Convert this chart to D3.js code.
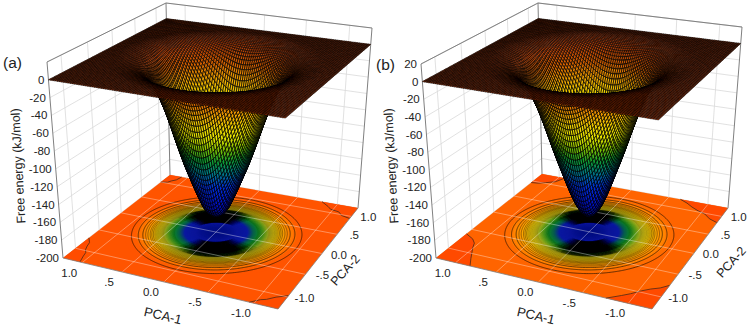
<!DOCTYPE html>
<html><head><meta charset="utf-8">
<style>html,body{margin:0;padding:0;background:#fff}svg{display:block}text{font-family:"Liberation Sans",Arial,sans-serif;fill:#222}</style>
<script src="https://cdn.jsdelivr.net/npm/d3@7"></script></head>
<body><svg id="c" width="749" height="327"></svg>
<script>
// ---------- data ----------
const xTicks = [1, .5, 0, -.5, -1];
const xTickLabels = ["1.0", ".5", "0.0", "-.5", "-1.0"];
const yTicks = [1, .5, 0, -.5, -1];
const yTickLabels = ["1.0", ".5", "0.0", "-.5", "-1.0"];
const zTicksA = [0,-20,-40,-60,-80,-100,-120,-140,-160,-180,-200];
const zTicksB = [20,0,-20,-40,-60,-80,-100,-120,-140,-160,-180,-200];
// radial free-energy profile of the well
const radii   = [0,.05,.1,.15,.2,.25,.3,.35,.4,.45,.5,.55,.6,.65,.7,.75,.8,.85,.9,.95,1,1.05,1.1,1.4,1.8];
const energyA = [-181,-180,-176,-169,-158,-146,-133,-120,-105,-89,-72,-56,-42,-30,-20,-13,-8.5,-5.5,-3.5,-2,-1,-.3,0,0,0];
const energyB = [-181,-180,-175,-167,-156,-143,-129,-115,-100,-84,-68,-53,-40,-29,-20,-13,-8.5,-5.5,-3.5,-2,-1,-.3,0,0,0];
const outerLevels = [1.8,4.2,6.7,8.7,11,13.5,16,18.5,21,23.5,26,28.5,31,33.5,36,38.5,41,43.5];
const innerLevels = [46,49,52,55,58,61,64,67,70,73,76,79,82,85,88,91,94,97,100,103,106,109,112,115,118,121,124,127,130,133,136,139,142,145];
// wiggly corner contours (PCA-1, PCA-2)
const cornersA = [
 [[1.25,-.72],[1.18,-.82],[1.16,-.9],[1.13,-.98],[1.09,-1.04],[1.07,-1.12],[1.03,-1.25]],
 [[1.25,1.0],[1.17,1.03],[1.14,1.09],[1.1,1.14],[1.08,1.25]],
 [[-.81,1.25],[-.92,1.15],[-.97,1.09],[-1.08,1.06],[-1.14,.98],[-1.25,.94]],
 [[-.95,-1.25],[-1.03,-1.16],[-1.08,-1.13],[-1.15,-1.05],[-1.19,-1.02],[-1.25,-.97]]];
const cornersB = [
 [[1.25,-.62],[1.12,-.7],[1.05,-.78],[1.01,-.88],[.95,-1],[.9,-1.1],[.82,-1.25]],
 [[1.25,.95],[1.16,.97],[1.08,1.02],[.98,1.1],[.95,1.17],[.92,1.25]],
 [[-.65,1.25],[-.76,1.18],[-.85,1.1],[-.95,1.03],[-1.05,.98],[-1.14,.88],[-1.25,.82]],
 [[-.76,-1.25],[-.88,-1.14],[-.95,-1.07],[-1.03,-.97],[-1.1,-.9],[-1.18,-.84],[-1.25,-.75]]];
// colour ramps
const surfDomain = [-181,-160,-135,-118,-100,-85,-70,-55,-40,-25,-10,0];
const surfRange  = ["#000a78","#0010c8","#0030d8","#007890","#10a030","#80c000","#e8e800","#f0d000","#f0a000","#dc6400","#b84006","#a83408"];
const floorDomain = [-181,-150,-118,-100,-80,-60,-42,-25,-12,-5,-1,0];
const floorRangeA = ["#000c80","#0a1498","#0a18a0","#065a50","#0c8028","#58a020","#b4b420","#e0c410","#f8a000","#ff7800","#ff5400","#ff5400"];
const floorRangeB = ["#000c80","#0a1498","#0a18a0","#065a50","#0c8028","#60a820","#bcbc20","#e8cc10","#fca800","#ff8400","#ff6400","#ff6400"];
const tiers = [[50,.08,.12],[44,.1,.2],[38,.15,.25],[32,.2,.35],[26,.2,.4]];

// panel geometry: screen corners of the box
const panels = [
 {name:"(a)", lx:3, ly:68, zTicks:zTicksA, energy:energyA, floorRange:floorRangeA, corners:cornersA, cornerFill:"#ff4c00", base:"#ff5400",
  floor:[[63,258],[278,309],[358,208],[170,175]], top:[[47,62],[286,99],[372,28],[166,3]],
  zl:[18,166], p1:[163,315.5], p2:[345,270]},
 {name:"(b)", lx:376, ly:70, zTicks:zTicksB, energy:energyB, floorRange:floorRangeB, corners:cornersB, cornerFill:"#ff4a00", base:"#ff6400",
  floor:[[436,258],[652,309],[728,208],[542,174]], top:[[421,64],[659,101],[742,27],[538,3]],
  zl:[391,166], p1:[536,315.5], p2:[731,262]}
];
const domX=[1.25,-1.25], domY=[-1.25,1.25];
const sS=d3.scaleLinear().domain(domX).range([0,1]), sT=d3.scaleLinear().domain(domY).range([0,1]);
const sZ=d3.scaleLinear().domain([-200,20]).range([0,1]);
const meshWidth=d3.scaleLinear().domain([-20,-2]).range([.72,.5]).clamp(true);

function homography(q){ // unit square -> quad (p00,p10,p11,p01)
  const [[x0,y0],[x1,y1],[x2,y2],[x3,y3]]=q;
  const dx1=x1-x2,dx2=x3-x2,sx=x0-x1+x2-x3,dy1=y1-y2,dy2=y3-y2,sy=y0-y1+y2-y3;
  const d=dx1*dy2-dx2*dy1, g=(sx*dy2-dx2*sy)/d, h=(dx1*sy-sx*dy1)/d;
  const a=x1-x0+g*x1,b=x3-x0+h*x3,c=x0,dd=y1-y0+g*y1,e=y3-y0+h*y3,f=y0;
  return (s,t)=>{const w=g*s+h*t+1;return [(a*s+b*t+c)/w,(dd*s+e*t+f)/w];};
}
const svg=d3.select("#c");
const pathOf=pts=>"M"+pts.map(p=>p[0].toFixed(2)+","+p[1].toFixed(2)).join("L")+"Z";

panels.forEach(P=>{
  const HF=homography(P.floor), HT=homography(P.top);
  const proj=(x,y,z)=>{const s=sS(x),t=sT(y),u=sZ(z),a=HF(s,t),b=HT(s,t);return [a[0]+(b[0]-a[0])*u,a[1]+(b[1]-a[1])*u];};
  const g=svg.append("g");
  const line=d3.line();
  const eScale=d3.scaleLinear().domain(radii).range(P.energy);
  const surfColor=d3.scaleLinear().domain(surfDomain).range(surfRange);
  const floorColor=d3.scaleLinear().domain(floorDomain).range(P.floorRange);
  const energyAt=(x,y)=>eScale(Math.hypot(x,y));
  const zMin=-200,zMax=20,xMin=-1.25,xMax=1.25;
  const gridCol="#d9d9d9";
  // back walls
  const wall=g.append("g").attr("fill","none").attr("stroke",gridCol).attr("stroke-width",.8);
  P.zTicks.concat([20]).forEach(z=>{
    wall.append("path").attr("d",line([proj(xMax,xMin,z),proj(xMax,xMax,z),proj(xMin,xMax,z)]));
  });
  xTicks.forEach(x=>wall.append("path").attr("d",line([proj(x,xMax,zMin),proj(x,xMax,zMax)])));
  yTicks.forEach(y=>wall.append("path").attr("d",line([proj(xMax,y,zMin),proj(xMax,y,zMax)])));
  // floor
  const fl=g.append("g");
  fl.append("path").attr("d",pathOf(P.floor)).attr("fill",P.base);
  P.corners.forEach((c,i)=>{
    const cp=[[xMax,xMin],[xMax,xMax],[xMin,xMax],[xMin,xMin]][i];
    const pts=c.concat([cp]).map(d=>proj(d[0],d[1],zMin));
    fl.append("path").attr("d",pathOf(pts)).attr("fill",P.cornerFill);
    fl.append("path").attr("d",line(c.map(d=>proj(d[0],d[1],zMin)))).attr("fill","none").attr("stroke","#4a2a18").attr("stroke-width",.8);
  });
  // contours on floor
  const n=240, vals=new Float64Array(n*n), gx=d3.scaleLinear().domain([0,n-1]).range([xMin,xMax]);
  for(let j=0;j<n;j++)for(let i=0;i<n;i++)vals[j*n+i]=-energyAt(gx(i),gx(j));
  const contourGen=d3.contours().size([n,n]);
  const geoToPts=ring=>ring.map(p=>proj(gx(p[0]-.5),gx(p[1]-.5),zMin));
  const ringPath=geo=>geo.coordinates.map(poly=>poly.map(r=>pathOf(geoToPts(r))).join("")).join("");
  d3.range(.5,181,1.5).forEach(t=>{
    const geo=contourGen.contour(vals,t);
    fl.append("path").attr("d",ringPath(geo)).attr("fill",floorColor(-t));
  });
  outerLevels.forEach(t=>{
    const geo=contourGen.contour(vals,t);
    fl.append("path").attr("d",ringPath(geo)).attr("fill","none").attr("stroke","#2a1800")
      .attr("stroke-width",t<=7?.85:(t<20?.55:.35)).attr("stroke-opacity",t<30?.85:.6);
  });
  // inner contours pile up into black only where the view foreshortens them (front and back)
  const [cx,cy]=proj(0,0,zMin);
  const runsOf=(ring,lim)=>{
    const keep=ring.map(p=>{const q=proj(gx(p[0]-.5),gx(p[1]-.5),zMin);
      return {q,a:Math.atan2(Math.abs(q[0]-cx)/88,Math.abs(q[1]-cy)/38)*180/Math.PI};});
    const runs=[];let cur=null;
    keep.forEach(k=>{if(k.a<lim){(cur=cur||[]).push(k.q);}else{if(cur&&cur.length>1)runs.push(cur);cur=null;}});
    if(cur&&cur.length>1)runs.push(cur);
    return runs.map(r=>line(r)).join("");
  };
  innerLevels.forEach(t=>{
    const geo=contourGen.contour(vals,t);
    const ring=geo.coordinates[0][0];
    const strong=t>=70;
    if(t<85) fl.append("path").attr("d",ringPath(geo)).attr("fill","none").attr("stroke","#102000").attr("stroke-width",.12);
    tiers.forEach(k=>{
      fl.append("path").attr("d",runsOf(ring,k[0])).attr("fill","none").attr("stroke","#000").attr("stroke-width",strong?k[2]:k[1]);
    });
  });
  // floor grid on top of map
  const fg=g.append("g").attr("fill","none").attr("stroke","#fff").attr("stroke-opacity",.45).attr("stroke-width",.8);
  xTicks.forEach(x=>fg.append("path").attr("d",line([proj(x,xMin,zMin),proj(x,xMax,zMin)])));
  yTicks.forEach(y=>fg.append("path").attr("d",line([proj(xMin,y,zMin),proj(xMax,y,zMin)])));
  // box edges
  const be=g.append("g").attr("fill","none").attr("stroke","#808080").attr("stroke-width",1);
  be.append("path").attr("d",line([proj(xMax,xMin,zMin),proj(xMax,xMin,zMax),proj(xMax,xMax,zMax),proj(xMin,xMax,zMax),proj(xMin,xMax,zMin)]));
  be.append("path").attr("d",line([proj(xMax,xMax,zMin),proj(xMax,xMax,zMax)]));
  be.append("path").attr("d",line([proj(xMax,xMin,zMin),proj(xMin,xMin,zMin),proj(xMin,xMax,zMin)])).attr("stroke-width",.8);
  // surface, painter's order back to front
  const N=100, step=(xMax-xMin)/N, cells=[];
  for(let i=0;i<N;i++)for(let j=0;j<N;j++)cells.push([xMin+i*step,xMin+j*step]);
  cells.sort((a,b)=>(b[0]+b[1])-(a[0]+a[1]));
  const sg=g.append("g").attr("stroke","#000").attr("stroke-linejoin","bevel");
  sg.selectAll("path").data(cells).join("path")
    .attr("d",c=>{const [x,y]=c;const q=[[x,y],[x+step,y],[x+step,y+step],[x,y+step]];
      return pathOf(q.map(p=>proj(p[0],p[1],energyAt(p[0],p[1]))));})
    .attr("stroke-width",c=>meshWidth(energyAt(c[0]+step/2,c[1]+step/2)))
    .attr("fill",c=>surfColor(energyAt(c[0]+step/2,c[1]+step/2)));
  // text
  const t=g.append("g").attr("font-size",11.5);
  P.zTicks.forEach(z=>{const p=proj(xMax,xMin,z);
    t.append("text").attr("x",p[0]-4).attr("y",p[1]+4).attr("text-anchor","end").text(z);});
  xTicks.forEach((x,i)=>{const p=proj(x,xMin,zMin);
    t.append("text").attr("x",p[0]-13).attr("y",p[1]+14).attr("text-anchor","middle").text(xTickLabels[i]);});
  yTicks.forEach((y,i)=>{const p=proj(xMin,y,zMin);
    t.append("text").attr("x",p[0]+17).attr("y",p[1]+5).attr("text-anchor","middle").text(yTickLabels[i]);});
  g.append("text").attr("x",P.lx).attr("y",P.ly).attr("font-size",15.5).text(P.name);
  g.append("text").attr("transform",`translate(${P.zl}) rotate(-93)`).attr("text-anchor","middle").attr("dy",".35em").attr("font-size",12.5).text("Free energy (kJ/mol)");
  g.append("text").attr("transform",`translate(${P.p1}) rotate(13)`).attr("text-anchor","middle").attr("dy",".35em").attr("font-size",13).text("PCA-1");
  g.append("text").attr("transform",`translate(${P.p2}) rotate(-48)`).attr("text-anchor","middle").attr("dy",".35em").attr("font-size",12.5).text("PCA-2");
});
</script></body></html>
